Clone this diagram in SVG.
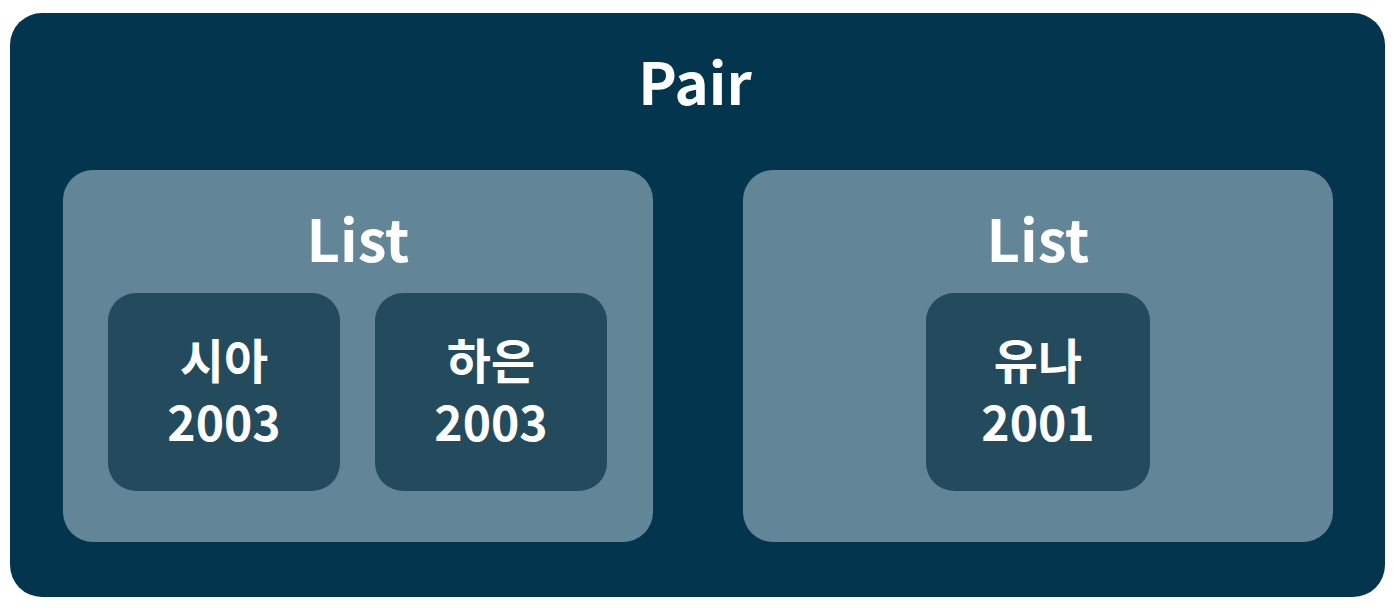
<svg xmlns="http://www.w3.org/2000/svg" width="1400" height="610" viewBox="0 0 1400 610">
<style>
.t{font-family:"Noto Sans CJK KR","Noto Sans",sans-serif;font-weight:bold;fill:#ffffff;text-anchor:middle}
.big{font-size:58px}
.item{font-size:48px}
.pair{fill:#03354f}
.list{fill:#628598}
.el{fill:#244a5e}
</style>
<rect width="1400" height="610" fill="#ffffff"/>
<g id="pair">
<rect class="pair" x="10" y="13" width="1375" height="584" rx="32"/>
<text class="t big" x="695" y="105">Pair</text>
</g>
<g id="list1">
<rect class="list" x="63" y="170" width="590" height="372" rx="30"/>
<text class="t big" x="358" y="262">List</text>
</g>
<g id="list2">
<rect class="list" x="743" y="170" width="590" height="372" rx="30"/>
<text class="t big" x="1038" y="262">List</text>
</g>
<g id="sia">
<rect class="el" x="108" y="293" width="232" height="198" rx="28"/>
<text class="t item" x="224" y="379">시아</text>
<text class="t item" x="224" y="441">2003</text>
</g>
<g id="haeun">
<rect class="el" x="375" y="293" width="232" height="198" rx="28"/>
<text class="t item" x="491" y="379">하은</text>
<text class="t item" x="491" y="441">2003</text>
</g>
<g id="yuna">
<rect class="el" x="926" y="293" width="224" height="198" rx="28"/>
<text class="t item" x="1038" y="379">유나</text>
<text class="t item" x="1038" y="441">2001</text>
</g>
<g id="connectors"></g>
</svg>
